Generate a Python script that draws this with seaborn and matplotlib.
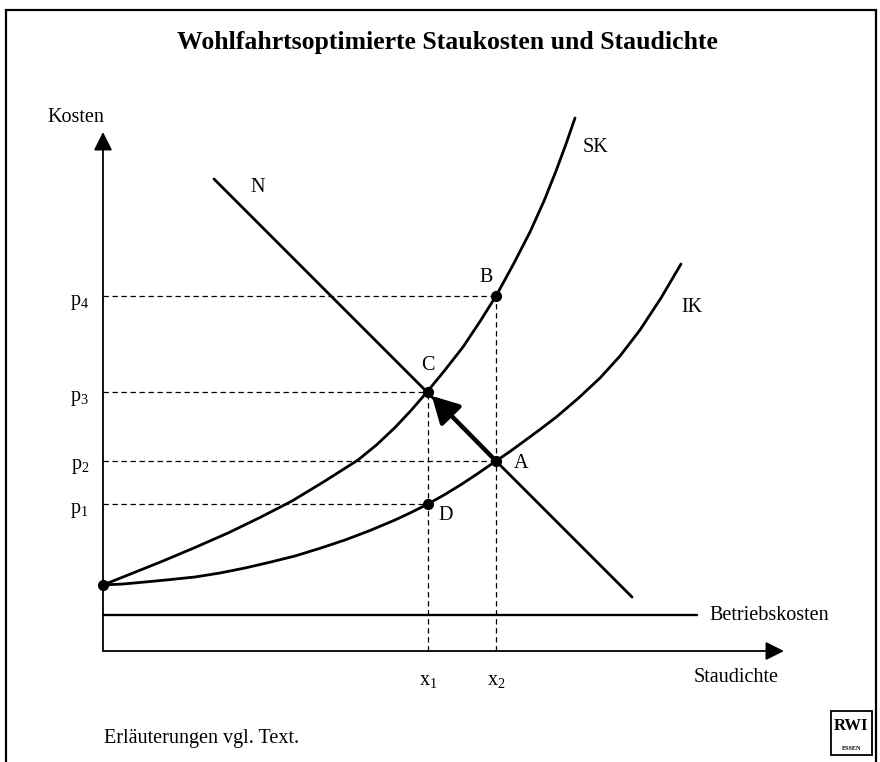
import matplotlib
matplotlib.use("Agg")
import matplotlib.pyplot as plt
import seaborn as sns
import pandas as pd
from matplotlib.patches import Rectangle

# ---------------- data ----------------
# x: Staudichte, y: Kosten (origin at the corner of the two axes)
ik_x = [0, 20, 42, 65, 92, 117, 142, 167, 192, 217, 242, 267, 292, 308, 325,
        342, 359, 376, 393, 407, 420, 437, 454, 475, 497, 517, 537, 558, 578]
ik_y = [66, 67, 69, 71.2, 74, 78, 83, 88.8, 95, 102.7, 111, 120.5, 131, 138.5,
        147, 156.6, 167, 178.3, 190, 199.5, 209, 221.5, 234.5, 252.5, 273, 295,
        321, 353, 387]
sk_x = [0, 30, 59, 92, 125, 157, 189, 222, 255, 274, 292, 308, 324, 342, 360,
        377, 393, 410, 427, 441, 453, 463, 472]
sk_y = [66, 78, 89.6, 103.5, 118, 133.5, 150, 170, 191, 206.5, 223.5, 240.5,
        259, 281, 304, 329.5, 355, 386, 419, 450, 480, 507, 533]
n_x = [111, 529]
n_y = [472, 54]
betrieb_x = [0, 594]
betrieb_y = [36, 36]
start_x, start_y = 0, 66

point_names = ["D", "A", "C", "B"]
point_x = [325, 393, 325, 393]
point_y = [147, 190, 259, 355]

quantities = [325, 393]
quantity_labels = ["x$_1$", "x$_2$"]
prices = [147, 190, 259, 355]
price_labels = ["p$_1$", "p$_2$", "p$_3$", "p$_4$"]

title = "Wohlfahrtsoptimierte Staukosten und Staudichte"
note = "Erläuterungen vgl. Text."

# ---------------- style ----------------
sns.set_theme(style="white")
plt.rcParams["font.family"] = ["Liberation Serif", "DejaVu Serif"]
plt.rcParams["text.color"] = "black"
plt.rcParams["mathtext.fontset"] = "custom"
plt.rcParams["mathtext.rm"] = "Liberation Serif"
plt.rcParams["mathtext.it"] = "Liberation Serif"
plt.rcParams["mathtext.default"] = "rm"

fig = plt.figure(figsize=(8.8, 7.62), dpi=100)
ax = fig.add_axes([0, 0, 1, 1])
ax.set_xlim(-103, 777)
ax.set_ylim(-111, 651)
ax.axis("off")

K = "black"
FS = 14.5

# frame
ax.plot([-97, -97, 773, 773], [-120, 641, 641, -120], color=K, lw=1.6,
        clip_on=False, solid_joinstyle="miter")

# axes with arrows
ax.annotate("", xy=(0, 519), xytext=(0, 0),
            arrowprops=dict(arrowstyle="-|>,head_length=0.8,head_width=0.4",
                            mutation_scale=14, lw=1.3, color=K,
                            shrinkA=0, shrinkB=0))
ax.annotate("", xy=(681, 0), xytext=(0, 0),
            arrowprops=dict(arrowstyle="-|>,head_length=0.8,head_width=0.4",
                            mutation_scale=14, lw=1.3, color=K,
                            shrinkA=0, shrinkB=0))

# dashed guide lines
dash = (0, (4.3, 2.9))
pts = pd.DataFrame({"name": point_names, "x": point_x, "y": point_y})
for p in prices:
    xe = pts.loc[pts["y"] == p, "x"].max()
    ax.plot([0, xe], [p, p], color=K, lw=0.9, linestyle=dash)
for q in quantities:
    ye = pts.loc[pts["x"] == q, "y"].max()
    ax.plot([q, q], [0, ye], color=K, lw=0.9, linestyle=dash)

# curves
sns.lineplot(x=betrieb_x, y=betrieb_y, ax=ax, color=K, lw=1.7,
             sort=False, estimator=None)
for cx, cy in [(ik_x, ik_y), (sk_x, sk_y), (n_x, n_y)]:
    sns.lineplot(x=cx, y=cy, ax=ax, color=K, lw=2.0, sort=False,
                 estimator=None, solid_joinstyle="round")

# thick arrow A -> C
a = pts.set_index("name")
ax.annotate("", xy=(a.loc["C", "x"], a.loc["C", "y"]),
            xytext=(a.loc["A", "x"], a.loc["A", "y"]),
            arrowprops=dict(arrowstyle="-|>,head_length=1.0,head_width=0.55",
                            mutation_scale=16, lw=3.2, color=K,
                            shrinkA=0, shrinkB=4))

# points
sns.scatterplot(x=point_x + [start_x], y=point_y + [start_y], ax=ax,
                color=K, s=65, edgecolor=K, linewidth=0, zorder=5)

# point labels
label_pos = {"B": (383, 373), "C": (325, 286), "A": (418, 188), "D": (343, 136)}
for n, (lx, ly) in label_pos.items():
    ax.text(lx, ly, n, fontsize=FS, ha="center", va="center")

ax.text(155, 464, "N", fontsize=FS, ha="center", va="center")
ax.text(493, 504, "SK", fontsize=FS, ha="center", va="center")
ax.text(589, 344, "IK", fontsize=FS, ha="center", va="center")

# axis tick-like labels
for p, lab in zip(prices, price_labels):
    ax.text(-14, p - 6, lab, fontsize=FS, ha="right", va="center")
for q, lab in zip(quantities, quantity_labels):
    ax.text(q, -30, lab, fontsize=FS, ha="center", va="center")

ax.text(1, 533, "Kosten", fontsize=FS, ha="right", va="center")
ax.text(633, -27, "Staudichte", fontsize=FS, ha="center", va="center")
ax.text(606, 36, "Betriebskosten", fontsize=FS, ha="left", va="center")

ax.text(344.5, 608, title, fontsize=18.5, fontweight="bold",
        ha="center", va="center")
ax.text(1, -88, note, fontsize=FS, ha="left", va="center")

# RWI logo
ax.add_patch(Rectangle((728, -104), 41, 44, fill=False, lw=1.3, ec=K))
ax.text(748.5, -75, "RWI", fontsize=12, fontweight="bold",
        ha="center", va="center")
ax.text(748.5, -97, "ESSEN", fontsize=4.5, fontweight="bold",
        ha="center", va="center")

fig.savefig("out.png", dpi=100)
